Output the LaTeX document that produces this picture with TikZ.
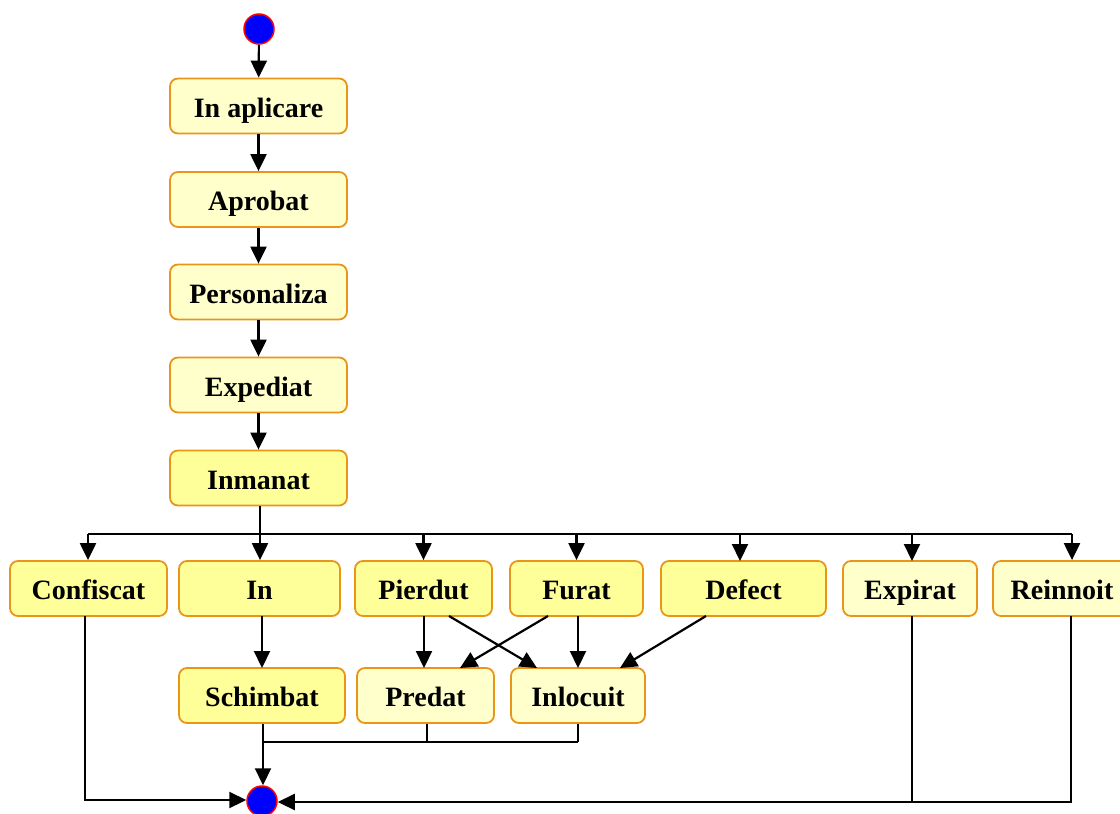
\documentclass[tikz,border=0pt]{standalone}
\usepackage{fontspec}
\setmainfont{Liberation Serif}
\usetikzlibrary{arrows.meta,calc}
\definecolor{palefill}{HTML}{FFFFCC}
\definecolor{richfill}{HTML}{FFFF99}
\definecolor{boxedge}{HTML}{E8951A}
\tikzset{
  x=1pt, y=-1pt,
  state/.style={draw=boxedge, line width=1.8pt, rounded corners=8pt,
    minimum height=55pt, inner sep=0pt, text height=26pt, text depth=4pt,
    font=\fontsize{28}{32}\selectfont\bfseries},
  pale/.style={state, fill=palefill},
  rich/.style={state, fill=richfill},
  dot/.style={circle, draw=red, line width=1.5pt, fill=blue, minimum size=30pt, inner sep=0pt},
  wire/.style={line width=2.2pt},
  arr/.style={wire, -{Triangle[length=17pt,width=16pt]}},
}
\begin{document}
\begin{tikzpicture}
\useasboundingbox (0,0) rectangle (1120,814);
% start and end states
\node[dot] (start) at (259,29) {};
\node[dot] (end) at (262,801) {};
% main chain
\node[pale, minimum width=177pt] (apl) at (258.5,106) {In aplicare};
\node[pale, minimum width=177pt] (apr) at (258.5,199.5) {Aprobat};
\node[pale, minimum width=177pt] (pers) at (258.5,292) {Personaliza};
\node[pale, minimum width=177pt] (exp) at (258.5,385) {Expediat};
\node[rich, minimum width=177pt] (inm) at (258.5,478) {Inmanat};
% second row
\node[rich, minimum width=157pt] (conf) at (88.5,588.5) {Confiscat};
\node[rich, minimum width=161pt] (in) at (259.5,588.5) {In};
\node[rich, minimum width=137pt] (pier) at (423.5,588.5) {Pierdut};
\node[rich, minimum width=133pt] (fur) at (576.5,588.5) {Furat};
\node[rich, minimum width=165pt] (def) at (743.5,588.5) {Defect};
\node[pale, minimum width=134pt] (expr) at (910,588.5) {Expirat};
\node[pale, minimum width=138pt] (rein) at (1062,588.5) {Reinnoit};
% third row
\node[rich, minimum width=166pt] (sch) at (262,695.5) {Schimbat};
\node[pale, minimum width=137pt] (pred) at (425.5,695.5) {Predat};
\node[pale, minimum width=134pt] (inl) at (578,695.5) {Inlocuit};
% chain arrows
\draw[arr] (start) -- (apl);
\draw[arr] (apl) -- (apr);
\draw[arr] (apr) -- (pers);
\draw[arr] (pers) -- (exp);
\draw[arr] (exp) -- (inm);
% distribution bus
\coordinate (busL) at (88,534);
\coordinate (busR) at (1072,534);
\coordinate (busM) at (260,534);
\draw[wire] (inm.south -| busM) -- (busM);
\draw[wire] (busL) -- (busR);
\draw[arr] (busL) -- (busL |- conf.north);
\draw[arr] (busM) -- (busM |- in.north);
\draw[arr] (pier.north |- busL) -- (pier.north);
\draw[arr] (fur.north |- busL) -- (fur.north);
\draw[arr] (740,534) -- (740,561);
\draw[arr] (912,534) -- (912,561);
\draw[arr] (busR) -- (busR |- rein.north);
% second row to third row
\draw[arr] (262,616) -- (262,668);
\draw[arr] (424,616) -- (424,668);
\draw[arr] (449,616) -- (537,668);
\draw[arr] (548,616) -- (460,668);
\draw[arr] (578,616) -- (578,668);
\draw[arr] (706,616) -- (620,668);
% collecting into the end state
\coordinate (j1) at (263,742);
\coordinate (j2) at (427,742);
\coordinate (j3) at (578,742);
\draw[wire] (j2 |- pred.south) -- (j2);
\draw[wire] (j3 |- inl.south) -- (j3);
\draw[wire] (j1) -- (j3);
\draw[arr] (j1 |- sch.south) -- (j1 |- end.north);
\coordinate (cTop) at (85,616);
\coordinate (cBot) at (85,800);
\draw[arr] (cTop) -- (cBot) -- (end.west |- cBot);
\coordinate (eTop) at (912,616);
\coordinate (eBot) at (912,802);
\draw[wire] (eTop) -- (eBot);
\coordinate (rTop) at (1071,616);
\coordinate (rBot) at (1071,802);
\draw[arr] (rTop) -- (rBot) -- (end.east |- rBot);
\end{tikzpicture}
\end{document}
